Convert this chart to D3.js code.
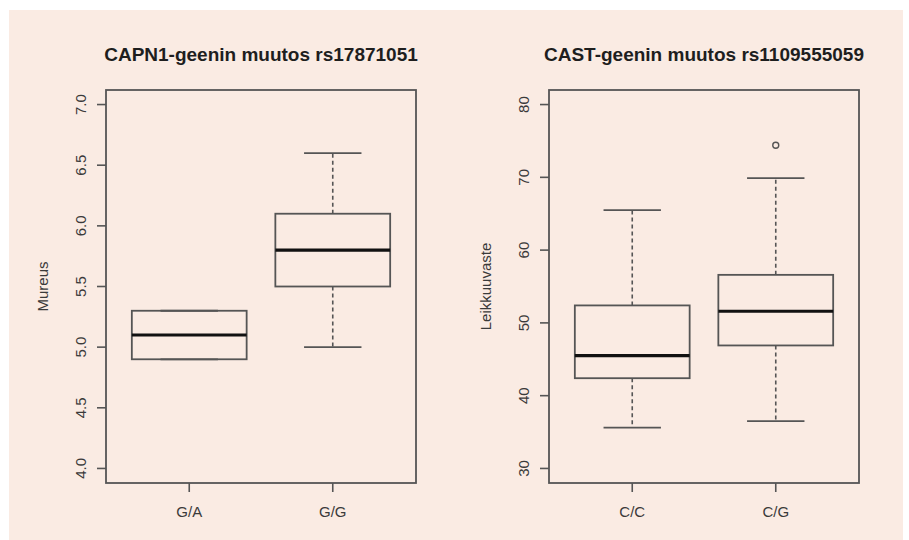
<!DOCTYPE html>
<html lang="fi">
<head>
<meta charset="UTF-8"/>
<title>CAPN1 / CAST boxplots</title>
<style>
  body { margin: 0; background: #ffffff; }
  svg { display: block; }
  text { font-family: "Liberation Sans", Arial, sans-serif; fill: #3a3a3a; }
  text.title { font-size: 19px; font-weight: bold; fill: #1e1e1e; }
  text.tick { font-size: 15px; }
  text.label { font-size: 15px; }
  .frame { fill: none; stroke: #555; stroke-width: 1.8; }
  .box { fill: none; stroke: #555; stroke-width: 1.8; }
  .median { stroke: #111; stroke-width: 3.2; }
  .whisker { stroke: #555; stroke-width: 1.6; stroke-dasharray: 4 3; }
  .cap { stroke: #555; stroke-width: 1.8; }
  .tickmark { stroke: #555; stroke-width: 1.6; }
  .outlier { fill: none; stroke: #555; stroke-width: 1.4; }
</style>
</head>
<body>
<svg width="909" height="540"></svg>
<script src="https://d3js.org/d3.v7.min.js"></script>
<script>
// left panel: CAPN1
const capnCats = ['G/A', 'G/G'];
const capnMin = [4.9, 5.0];
const capnQ1 = [4.9, 5.5];
const capnMed = [5.1, 5.8];
const capnQ3 = [5.3, 6.1];
const capnMax = [5.3, 6.6];
const capnOut = [[], []];
const capnTicks = [4.0, 4.5, 5.0, 5.5, 6.0, 6.5, 7.0];

// right panel: CAST
const castCats = ['C/C', 'C/G'];
const castMin = [35.6, 36.5];
const castQ1 = [42.4, 46.9];
const castMed = [45.5, 51.6];
const castQ3 = [52.4, 56.6];
const castMax = [65.5, 69.9];
const castOut = [[], [74.4]];
const castTicks = [30, 40, 50, 60, 70, 80];

const svg = d3.select('svg');
svg.append('rect')
  .attr('x', 9).attr('y', 10)
  .attr('width', 894).attr('height', 530)
  .attr('fill', '#faebe3');

function drawPanel(p) {
  const left = p.left, right = p.left + 310;
  const top = 90, bottom = 483;
  const ext = (p.ticks[p.ticks.length - 1] - p.ticks[0]) * 0.04;
  const y = d3.scaleLinear()
    .domain([p.ticks[0] - ext, p.ticks[p.ticks.length - 1] + ext])
    .range([bottom, top]);
  const x = d3.scalePoint()
    .domain(p.cats)
    .range([left, right])
    .padding(0.58);
  const step = x.step();
  const bw = step * 0.8;
  const g = svg.append('g');

  const rows = p.cats.map((c, i) => ({
    cat: c, min: p.min[i], q1: p.q1[i], med: p.med[i],
    q3: p.q3[i], max: p.max[i], out: p.out[i]
  }));

  const grp = g.selectAll('g.bx').data(rows).enter().append('g').attr('class', 'bx');
  // whiskers
  grp.append('line').attr('class', 'whisker')
    .attr('x1', d => x(d.cat)).attr('x2', d => x(d.cat))
    .attr('y1', d => y(d.q3)).attr('y2', d => y(d.max));
  grp.append('line').attr('class', 'whisker')
    .attr('x1', d => x(d.cat)).attr('x2', d => x(d.cat))
    .attr('y1', d => y(d.q1)).attr('y2', d => y(d.min));
  // caps
  grp.append('line').attr('class', 'cap')
    .attr('x1', d => x(d.cat) - bw / 4).attr('x2', d => x(d.cat) + bw / 4)
    .attr('y1', d => y(d.max)).attr('y2', d => y(d.max));
  grp.append('line').attr('class', 'cap')
    .attr('x1', d => x(d.cat) - bw / 4).attr('x2', d => x(d.cat) + bw / 4)
    .attr('y1', d => y(d.min)).attr('y2', d => y(d.min));
  // box
  grp.append('rect').attr('class', 'box')
    .attr('x', d => x(d.cat) - bw / 2)
    .attr('y', d => y(d.q3))
    .attr('width', bw)
    .attr('height', d => y(d.q1) - y(d.q3));
  grp.append('line').attr('class', 'median')
    .attr('x1', d => x(d.cat) - bw / 2).attr('x2', d => x(d.cat) + bw / 2)
    .attr('y1', d => y(d.med)).attr('y2', d => y(d.med));
  // outliers
  grp.selectAll('circle').data(d => d.out.map(v => ({cat: d.cat, v: v})))
    .enter().append('circle').attr('class', 'outlier')
    .attr('cx', d => x(d.cat)).attr('cy', d => y(d.v)).attr('r', 3);

  // frame
  g.append('rect').attr('class', 'frame')
    .attr('x', left).attr('y', top)
    .attr('width', right - left).attr('height', bottom - top);

  // y ticks
  p.ticks.forEach(t => {
    g.append('line').attr('class', 'tickmark')
      .attr('x1', left - 9).attr('x2', left)
      .attr('y1', y(t)).attr('y2', y(t));
    g.append('text').attr('class', 'tick')
      .attr('transform', `translate(${left - 20}, ${y(t)}) rotate(-90)`)
      .attr('text-anchor', 'middle')
      .text(p.fmt(t));
  });
  // x ticks
  p.cats.forEach(c => {
    g.append('line').attr('class', 'tickmark')
      .attr('x1', x(c)).attr('x2', x(c))
      .attr('y1', bottom).attr('y2', bottom + 9);
    g.append('text').attr('class', 'tick')
      .attr('x', x(c)).attr('y', 517)
      .attr('text-anchor', 'middle')
      .text(c);
  });
  // y label
  g.append('text').attr('class', 'label')
    .attr('transform', `translate(${left - 58}, ${(top + bottom) / 2}) rotate(-90)`)
    .attr('text-anchor', 'middle')
    .text(p.ylab);
  // title
  g.append('text').attr('class', 'title')
    .attr('x', (left + right) / 2).attr('y', 61)
    .attr('text-anchor', 'middle')
    .text(p.title);
}

drawPanel({
  left: 106, cats: capnCats, min: capnMin, q1: capnQ1, med: capnMed,
  q3: capnQ3, max: capnMax, out: capnOut, ticks: capnTicks,
  fmt: d3.format('.1f'), ylab: 'Mureus',
  title: 'CAPN1-geenin muutos rs17871051'
});
drawPanel({
  left: 549, cats: castCats, min: castMin, q1: castQ1, med: castMed,
  q3: castQ3, max: castMax, out: castOut, ticks: castTicks,
  fmt: d3.format('d'), ylab: 'Leikkuuvaste',
  title: 'CAST-geenin muutos rs1109555059'
});
</script>
</body>
</html>
